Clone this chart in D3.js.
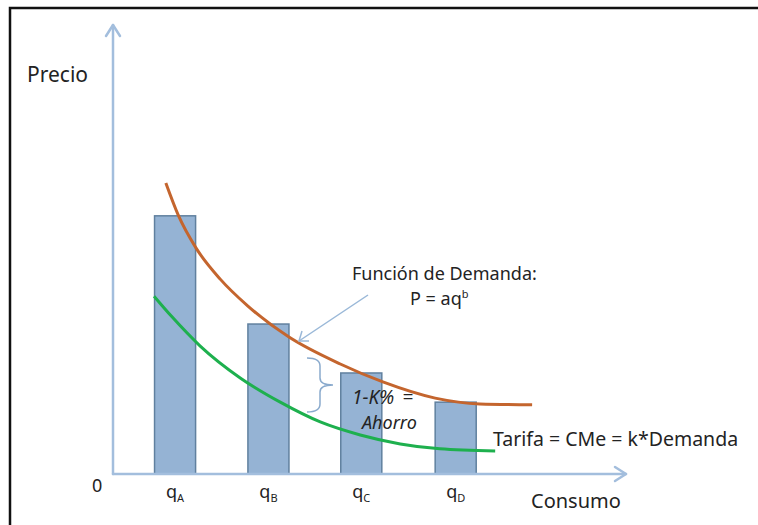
<!DOCTYPE html>
<html>
<head>
<meta charset="utf-8">
<script src="https://cdn.jsdelivr.net/npm/d3@7"></script>
<style>
  html, body { margin: 0; padding: 0; background: #fff; }
  svg { display: block; }
  text { font-family: "Noto Sans", "DejaVu Sans", sans-serif; fill: #232323; }
</style>
</head>
<body>
<svg id="chart" width="758" height="525"></svg>
<script>
// Consumption levels (q) for each bar and the price paid at each level
const categories = ["A", "B", "C", "D"];
const consumo = [12.1, 30.3, 48.4, 66.8];
const precio = [57.5, 33.4, 22.5, 16.0];

// Demand curve  P = a·q^b  (sampled)
const demandaQ = [10.3, 12.7, 16.2, 20.9, 26.3, 34.3, 44.3, 52.6, 62.8, 71.5, 81.7];
const demandaP = [64.8, 57.7, 50.3, 43.4, 37.4, 30.5, 24.5, 20.5, 16.9, 15.6, 15.4];

// Tariff curve  Tarifa = CMe = k·Demanda  (sampled)
const tarifaQ = [8.0, 11.5, 17.0, 24.8, 32.6, 40.4, 48.2, 56.0, 63.7, 74.5];
const tarifaP = [39.6, 35.0, 28.5, 21.4, 16.0, 11.6, 8.7, 6.7, 5.6, 5.1];

const barWidth = 8; // in consumption units

const svg = d3.select("#chart");

const x = d3.scaleLinear().domain([0, 100]).range([113, 626]);
const y = d3.scaleLinear().domain([0, 100]).range([474, 25]);

const axisColor = "#a3bedd";

// Frame
svg.append("path")
  .attr("d", "M10,525 L10,8 L758,8")
  .attr("fill", "none")
  .attr("stroke", "#111")
  .attr("stroke-width", 2.5);

// Bars
svg.selectAll("rect.bar")
  .data(categories)
  .join("rect")
  .attr("class", "bar")
  .attr("x", (d, i) => x(consumo[i] - barWidth / 2))
  .attr("width", (d, i) => x(consumo[i] + barWidth / 2) - x(consumo[i] - barWidth / 2))
  .attr("y", (d, i) => y(precio[i]))
  .attr("height", (d, i) => y(0) - y(precio[i]))
  .attr("fill", "#95b3d4")
  .attr("stroke", "#60809f")
  .attr("stroke-width", 1.5);

// Axes with arrowheads
const axes = svg.append("g")
  .attr("fill", "none")
  .attr("stroke", axisColor)
  .attr("stroke-width", 2.5)
  .attr("stroke-linecap", "round")
  .attr("stroke-linejoin", "round");

axes.append("line")
  .attr("x1", x(0)).attr("y1", y(0))
  .attr("x2", x(0)).attr("y2", y(100));
axes.append("path")
  .attr("d", `M${x(0) - 7},${y(100) + 11} L${x(0)},${y(100)} L${x(0) + 7},${y(100) + 11}`);

axes.append("line")
  .attr("x1", x(0)).attr("y1", y(0))
  .attr("x2", x(100)).attr("y2", y(0));
axes.append("path")
  .attr("d", `M${x(100) - 11},${y(0) - 7} L${x(100)},${y(0)} L${x(100) - 11},${y(0) + 7}`);

// Curves
const line = d3.line()
  .x(d => x(d[0]))
  .y(d => y(d[1]))
  .curve(d3.curveMonotoneX);

svg.append("path")
  .datum(demandaQ.map((q, i) => [q, demandaP[i]]))
  .attr("d", line)
  .attr("fill", "none")
  .attr("stroke", "#c4652e")
  .attr("stroke-width", 3);

svg.append("path")
  .datum(tarifaQ.map((q, i) => [q, tarifaP[i]]))
  .attr("d", line)
  .attr("fill", "none")
  .attr("stroke", "#1eb04e")
  .attr("stroke-width", 3);

// Axis titles
svg.append("text").attr("x", 27).attr("y", 82)
  .attr("font-size", 21).text("Precio");
svg.append("text").attr("x", 92).attr("y", 492)
  .attr("font-size", 18).text("0");
svg.append("text").attr("x", 531).attr("y", 508)
  .attr("font-size", 20).text("Consumo");

// Category labels q_A ... q_D
const qLabels = svg.selectAll("text.q")
  .data(categories)
  .join("text")
  .attr("class", "q")
  .attr("x", (d, i) => x(consumo[i]))
  .attr("y", 498)
  .attr("text-anchor", "middle")
  .attr("font-size", 18);
qLabels.append("tspan").text("q");
qLabels.append("tspan").attr("font-size", 11).attr("dy", 4).text(d => d);

// Demand function annotation
svg.append("text").attr("x", 352).attr("y", 280)
  .attr("font-size", 18).text("Función de Demanda:");
const eq = svg.append("text").attr("x", 410).attr("y", 305).attr("font-size", 18);
eq.append("tspan").text("P = aq");
eq.append("tspan").attr("font-size", 11).attr("dy", -7).text("b");

// Pointer arrow to the demand curve
const arrowColor = "#9ab8d8";
svg.append("line")
  .attr("x1", 368).attr("y1", 295)
  .attr("x2", 299).attr("y2", 341)
  .attr("stroke", arrowColor).attr("stroke-width", 1.5);
svg.append("path")
  .attr("d", "M302,331 L299,341 L309,341")
  .attr("fill", "none")
  .attr("stroke", arrowColor).attr("stroke-width", 1.5);

// Brace marking the saving between the curves
svg.append("path")
  .attr("d", "M307,358 Q320,358 320,366 L320,378 Q320,385 333,385 Q320,385 320,392 L320,404 Q320,412 307,412")
  .attr("fill", "none")
  .attr("stroke", "#8aaacd")
  .attr("stroke-width", 1.5);

svg.append("text").attr("x", 352).attr("y", 404)
  .attr("font-size", 19).attr("font-style", "italic")
  .attr("word-spacing", 3).text("1-K% =");
svg.append("text").attr("x", 362).attr("y", 429)
  .attr("font-size", 18).attr("font-style", "italic").text("Ahorro");

// Tariff label
svg.append("text").attr("x", 493).attr("y", 446)
  .attr("font-size", 19.5).text("Tarifa = CMe = k*Demanda");
</script>
</body>
</html>
